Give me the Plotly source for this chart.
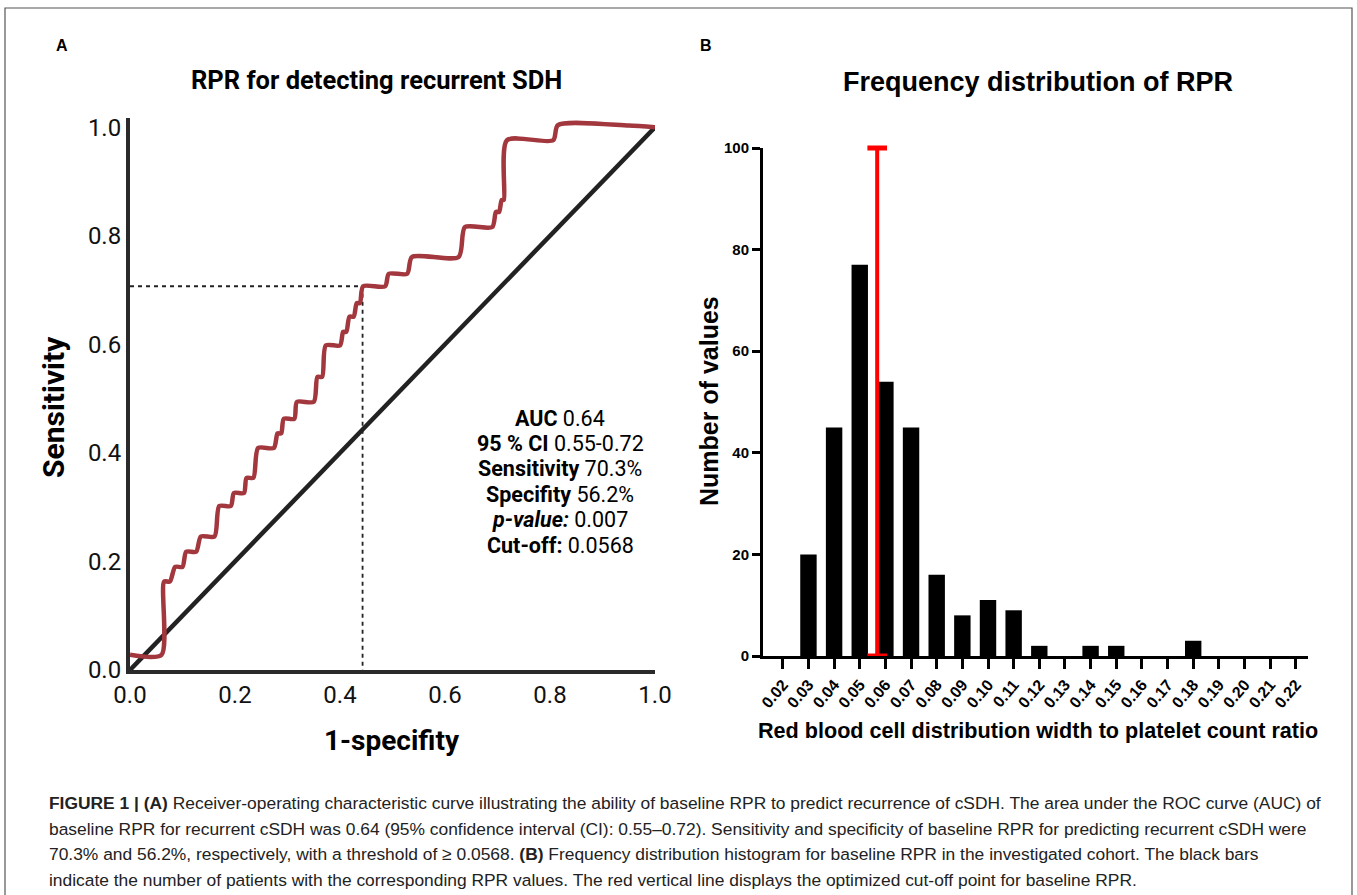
import plotly.graph_objects as go

W, H = 1357, 895

# ---------------- Panel A: ROC curve (staircase) ----------------
roc_fpr = [0.000, 0.060, 0.065, 0.076, 0.086, 0.100, 0.107, 0.126, 0.135, 0.161,
           0.170, 0.192, 0.198, 0.217, 0.222, 0.235, 0.244, 0.274, 0.281, 0.288,
           0.293, 0.313, 0.318, 0.350, 0.357, 0.366, 0.373, 0.400, 0.406, 0.412,
           0.418, 0.426, 0.432, 0.438, 0.444, 0.486, 0.493, 0.528, 0.537, 0.626,
           0.638, 0.690, 0.697, 0.703, 0.708, 0.712, 0.718, 0.806, 0.815, 0.950, 1.000]
roc_tpr = [0.028, 0.028, 0.163, 0.163, 0.190, 0.190, 0.218, 0.218, 0.246, 0.246,
           0.302, 0.302, 0.326, 0.326, 0.354, 0.354, 0.409, 0.409, 0.436, 0.436,
           0.463, 0.463, 0.494, 0.494, 0.540, 0.540, 0.598, 0.598, 0.623, 0.623,
           0.651, 0.651, 0.676, 0.676, 0.707, 0.707, 0.730, 0.730, 0.761, 0.761,
           0.816, 0.816, 0.844, 0.844, 0.866, 0.866, 0.976, 0.976, 1.004, 1.003, 1.000]
cutoff_fpr = 0.443
cutoff_tpr = 0.707
a_ticks = [0.0, 0.2, 0.4, 0.6, 0.8, 1.0]
a_ticklabels = ["0.0", "0.2", "0.4", "0.6", "0.8", "1.0"]

stats_lines = [("AUC", "0.64", False), ("95 % CI", "0.55-0.72", False),
               ("Sensitivity", "70.3%", False), ("Specifity", "56.2%", False),
               ("p-value:", "0.007", True), ("Cut-off:", "0.0568", False)]

# ---------------- Panel B: histogram ----------------
bin_centers = [0.02, 0.03, 0.04, 0.05, 0.06, 0.07, 0.08, 0.09, 0.10, 0.11, 0.12,
               0.13, 0.14, 0.15, 0.16, 0.17, 0.18, 0.19, 0.20, 0.21, 0.22]
bin_labels = ["0.02", "0.03", "0.04", "0.05", "0.06", "0.07", "0.08", "0.09", "0.10",
              "0.11", "0.12", "0.13", "0.14", "0.15", "0.16", "0.17", "0.18", "0.19",
              "0.20", "0.21", "0.22"]
counts = [0, 20, 45, 77, 54, 45, 16, 8, 11, 9, 2, 0, 2, 2, 0, 0, 3, 0, 0, 0, 0]
cutoff_rpr = 0.0568
b_yticks = [0, 20, 40, 60, 80, 100]

caption_lines = [
    "<b>FIGURE 1 | (A)</b> Receiver-operating characteristic curve illustrating the ability of baseline RPR to predict recurrence of cSDH. The area under the ROC curve (AUC) of",
    "baseline RPR for recurrent cSDH was 0.64 (95% confidence interval (CI): 0.55–0.72). Sensitivity and specificity of baseline RPR for predicting recurrent cSDH were",
    "70.3% and 56.2%, respectively, with a threshold of ≥ 0.0568. <b>(B)</b> Frequency distribution histogram for baseline RPR in the investigated cohort. The black bars",
    "indicate the number of patients with the corresponding RPR values. The red vertical line displays the optimized cut-off point for baseline RPR.",
]


def px(x):
    return x / W


def py(y):
    return 1 - y / H


fig = go.Figure()

# Panel A traces
fig.add_trace(go.Scatter(x=[0, 1], y=[0, 1], mode="lines",
                         line=dict(color="#222222", width=4.5),
                         xaxis="x", yaxis="y", hoverinfo="skip"))
fig.add_trace(go.Scatter(x=[0, cutoff_fpr, cutoff_fpr], y=[cutoff_tpr, cutoff_tpr, 0],
                         mode="lines", line=dict(color="#222222", width=1.8, dash="4px,4px"),
                         xaxis="x", yaxis="y", hoverinfo="skip"))
fig.add_trace(go.Scatter(x=roc_fpr, y=roc_tpr, mode="lines",
                         line=dict(color="#a3373e", width=4.5, shape="spline", smoothing=0.7),
                         xaxis="x", yaxis="y"))

# Panel B traces
fig.add_trace(go.Bar(x=bin_centers, y=counts, width=0.0064, marker=dict(color="black", line=dict(width=0)),
                     xaxis="x2", yaxis="y2"))
fig.add_trace(go.Scatter(x=[cutoff_rpr, cutoff_rpr], y=[0, 100], mode="lines+markers",
                         line=dict(color="#ff0000", width=4),
                         marker=dict(symbol="line-ew", size=14, line=dict(color="#ff0000", width=5)),
                         xaxis="x2", yaxis="y2", cliponaxis=False))

fontA = "Roboto, 'Open Sans', sans-serif"
fontB = "'Liberation Sans Narrow', 'Arial Narrow', 'Liberation Sans', Arial, sans-serif"

fig.update_layout(
    width=W, height=H, autosize=False,
    margin=dict(l=0, r=0, t=0, b=0, pad=0, autoexpand=False),
    paper_bgcolor="white", plot_bgcolor="white",
    showlegend=False,
    xaxis=dict(domain=[px(130), px(655)], range=[0, 1], anchor="y", automargin=False,
               showgrid=False, zeroline=False, showline=True, linecolor="#2a2a2a", linewidth=4,
               tickmode="array", tickvals=a_ticks, ticktext=a_ticklabels, ticks="",
               tickfont=dict(family=fontA, size=24, color="#111111")),
    yaxis=dict(domain=[py(670), py(118)], range=[0, 1.017], anchor="x", automargin=False,
               showgrid=False, zeroline=False, showline=True, linecolor="#2a2a2a", linewidth=4,
               tickmode="array", tickvals=a_ticks, ticktext=a_ticklabels, ticks="",
               tickfont=dict(family=fontA, size=24, color="#111111")),
    xaxis2=dict(domain=[px(763), px(1308)], range=[0.01228, 0.22476], anchor="y2", automargin=False,
                showgrid=False, zeroline=False, showline=True, linecolor="black", linewidth=3,
                tickmode="array", tickvals=bin_centers, ticktext=bin_labels,
                ticks="outside", ticklen=10, tickwidth=2.5, tickcolor="black", tickangle=-50,
                tickfont=dict(family=fontB, size=16, color="black", weight="bold")),
    yaxis2=dict(domain=[py(656), py(148)], range=[0, 100], anchor="x2", automargin=False,
                showgrid=False, zeroline=False, showline=True, linecolor="black", linewidth=3,
                tickmode="array", tickvals=b_yticks, ticks="outside", ticklen=8, tickwidth=2.5,
                tickcolor="black",
                tickfont=dict(family=fontB, size=15, color="black", weight="bold")),
)

ann = []
# Panel letters
ann.append(dict(x=px(62), y=py(45), text="<b>A</b>", font=dict(family="Liberation Sans, Arial", size=16, color="black")))
ann.append(dict(x=px(706), y=py(45), text="<b>B</b>", font=dict(family="Liberation Sans, Arial", size=16, color="black")))
# Titles
ann.append(dict(x=px(376), y=py(80), text="<b>RPR for detecting recurrent SDH</b>",
                font=dict(family=fontA, size=25.5, color="black")))
ann.append(dict(x=px(1038), y=py(82), text="<b>Frequency distribution of RPR</b>",
                font=dict(family="Liberation Sans, Arial", size=27, color="black")))
# Axis titles A
ann.append(dict(x=px(53), y=py(407), text="<b>Sensitivity</b>", textangle=-90,
                font=dict(family=fontA, size=30, color="black")))
ann.append(dict(x=px(392), y=py(740), text="<b>1-specifity</b>",
                font=dict(family=fontA, size=28, color="black")))
# Axis titles B
ann.append(dict(x=px(709), y=py(401), text="<b>Number of values</b>", textangle=-90,
                font=dict(family="Liberation Sans, Arial", size=25, color="black")))
ann.append(dict(x=px(1038), y=py(730), text="<b>Red blood cell distribution width to platelet count ratio</b>",
                font=dict(family=fontB, size=21.6, color="black")))
# Stats block
for i, (lab, val, ital) in enumerate(stats_lines):
    l = f"<b><i>{lab}</i></b>" if ital else f"<b>{lab}</b>"
    ann.append(dict(x=px(560), y=py(418 + i * 25.4), text=f"{l} {val}",
                    font=dict(family=fontA, size=21.5, color="black")))
# Caption
for i, line in enumerate(caption_lines):
    ann.append(dict(x=px(47), y=py(803 + i * 25.7), text=line, xanchor="left",
                    font=dict(family=fontB, size=17.4, color="#222222")))

for a in ann:
    a.setdefault("xref", "paper")
    a.setdefault("yref", "paper")
    a.setdefault("showarrow", False)
    a.setdefault("xanchor", "center")
    a.setdefault("yanchor", "middle")
fig.update_layout(annotations=ann)

# outer frame
fig.add_shape(type="rect", xref="paper", yref="paper", x0=px(5), x1=px(1352), y0=py(900), y1=py(8),
              line=dict(color="#555555", width=1.2), fillcolor="rgba(0,0,0,0)")

fig.write_html("out.html", config={"displayModeBar": False},
               post_script="document.body.style.margin='0';document.body.style.padding='0';"
                           "document.body.style.overflow='hidden';"
                           "document.documentElement.style.overflow='hidden';")
